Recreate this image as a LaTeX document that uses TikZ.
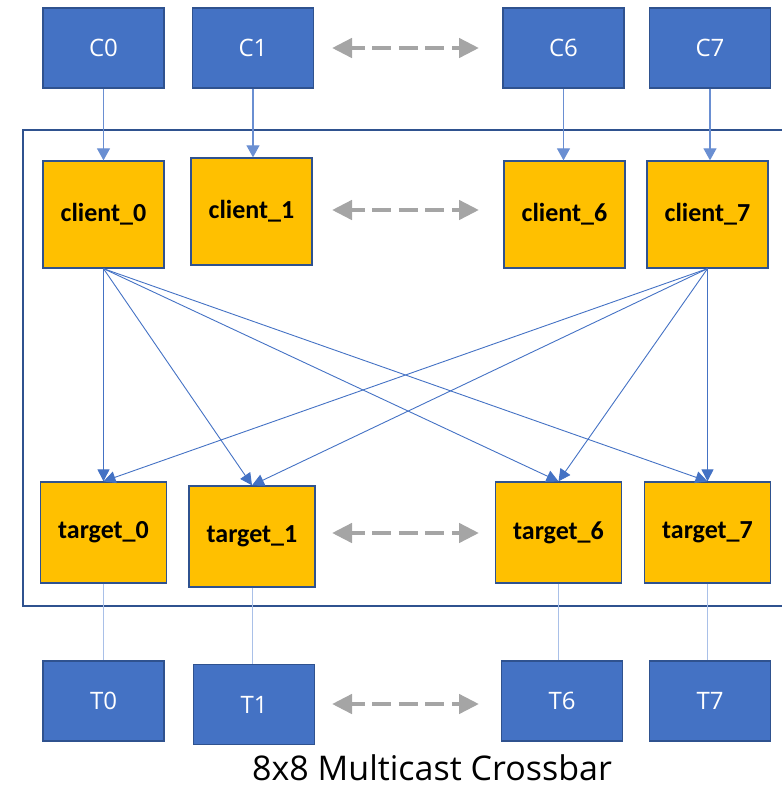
\documentclass[tikz,border=0pt]{standalone}
\usepackage{fontspec}
\setmainfont{Open Sans}
\newfontfamily\boxfont{Carlito}
\usepackage{tikz}
\usetikzlibrary{positioning, arrows.meta}
\definecolor{portblue}{HTML}{4472C4}
\definecolor{rimblue}{HTML}{2F528F}
\definecolor{xbargold}{HTML}{FFC000}
\definecolor{etcgray}{HTML}{A5A5A5}
\definecolor{paleblue}{HTML}{A9C0E8}
\definecolor{feedblue}{HTML}{6A8FD2}

\begin{document}
\begin{tikzpicture}[x=1pt, y=-1pt,
  port node/.style={rectangle, draw=rimblue, fill=portblue, line width=1.3pt,
    minimum width=121pt, minimum height=80pt, inner sep=0pt, text=white,
    font=\fontsize{24}{28}\selectfont},
  xbar node/.style={rectangle, draw=rimblue, fill=xbargold, line width=1.3pt,
    minimum width=121pt, minimum height=107pt, inner sep=0pt,
    font=\boxfont\bfseries\fontsize{26}{30}\selectfont},
  target node/.style={xbar node, minimum width=126pt, minimum height=101pt},
  feed edge/.style={feedblue, line width=1.2pt, -{Triangle[length=12pt,width=13pt]}},
  xbar edge/.style={portblue, line width=0.9pt, -{Triangle[length=12pt,width=12pt]}},
  out edge/.style={paleblue, line width=0.8pt},
  etc arrow/.style={etcgray, line width=4.5pt, dash pattern=on 19pt off 7.5pt, dash phase=5pt,
    {Triangle[length=20pt,width=19pt]}-{Triangle[length=20pt,width=19pt]}}]

\useasboundingbox (0,0) rectangle (782,788);

% crossbar frame, right side runs off the page
\draw[rimblue, line width=1.5pt] (800,130) -- (23,130) -- (23,606) -- (800,606);

\node[port node] (C0) at (103.5,48) {C0};
\node[port node] (C1) at (253,48) {C1};
\node[port node] (C6) at (563.5,48) {C6};
\node[port node] (C7) at (710,48) {C7};

\node[xbar node] (client_0) at (103.5,214.5) {client\_0};
\node[xbar node] (client_1) at (251.5,211.5) {client\_1};
\node[xbar node] (client_6) at (564.5,214.5) {client\_6};
\node[xbar node] (client_7) at (707.5,214.5) {client\_7};

\node[target node] (target_0) at (103.5,532.5) {target\_0};
\node[target node] (target_1) at (252,536.5) {target\_1};
\node[target node] (target_6) at (558.5,532.5) {target\_6};
\node[target node] (target_7) at (707.5,532.5) {target\_7};

\node[port node] (T0) at (103.5,701) {T0};
\node[port node] (T1) at (254,704.5) {T1};
\node[port node] (T6) at (562,701) {T6};
\node[port node] (T7) at (710,701) {T7};

\foreach \i in {0,1,6,7} {
  \draw[feed edge] (C\i.south) -- (C\i.south |- client_\i.north);
  \draw[out edge] (target_\i.south) -- (target_\i.south |- T\i.north);
}

\foreach \s in {0,7}
  \foreach \t in {0,1,6,7}
    \draw[xbar edge] (client_\s.south) -- (target_\t.north);

% the ports in between are left out
\foreach \y/\n in {48/C, 210/client, 533/target, 704/T} {
  \coordinate (\n left) at (332,\y);
  \coordinate (\n right) at (479,\y);
  \draw[etc arrow] (\n left) -- (\n right);
}

\node[font=\fontsize{34}{40}\selectfont, inner sep=0pt, anchor=base] (title) at (432,780) {8x8 Multicast Crossbar};

\end{tikzpicture}
\end{document}
